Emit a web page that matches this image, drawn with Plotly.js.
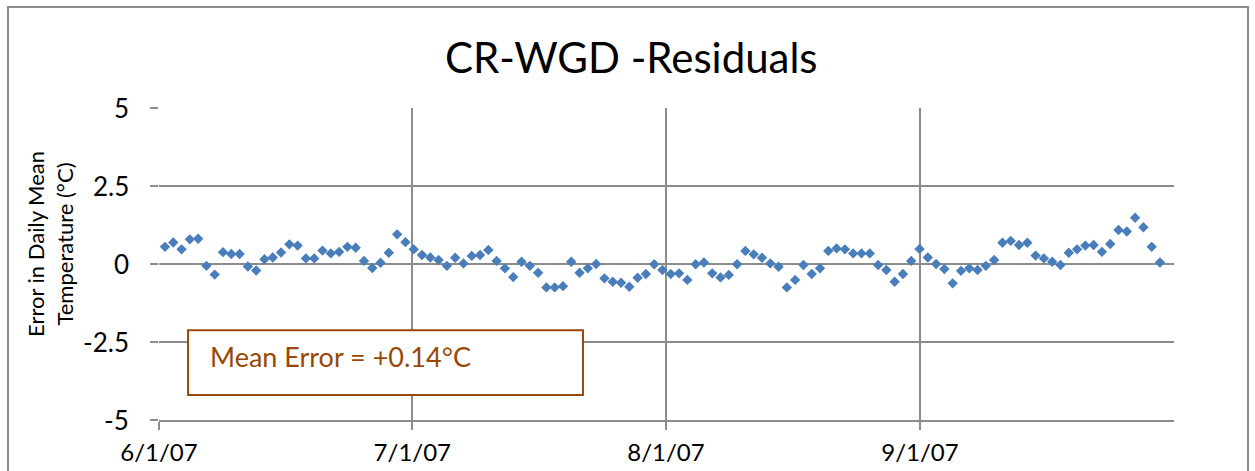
<!DOCTYPE html>
<html>
<head>
<meta charset="utf-8">
<script src="https://cdn.plot.ly/plotly-3.0.1.min.js"></script>
<style>
html,body{margin:0;padding:0;background:#fff;}
#wrap{position:relative;width:1255px;height:471px;overflow:hidden;}
#chart{width:1255px;height:471px;}
#frame{position:absolute;left:7px;top:6px;width:1238px;height:500px;border:2px solid #8c8c8c;pointer-events:none;}
</style>
</head>
<body>
<div id="wrap"><div id="chart"></div><div id="frame"></div></div>
<script>
// Day number counted from 6/1/07 (day 0), one residual per day
var days = [];
for (var d = 0; d <= 120; d++) days.push(d);

var residuals = [
 0.55, 0.69, 0.47, 0.79, 0.81, -0.06, -0.34, 0.38, 0.32, 0.32,
 -0.08, -0.21, 0.15, 0.21, 0.37, 0.63, 0.59, 0.18, 0.18, 0.43,
 0.34, 0.39, 0.55, 0.52, 0.10, -0.13, 0.04, 0.36, 0.95, 0.70,
 0.47, 0.29, 0.21, 0.13, -0.06, 0.20, 0.02, 0.26, 0.29, 0.45,
 0.10, -0.14, -0.42, 0.07, -0.06, -0.28, -0.75, -0.75, -0.71, 0.07,
 -0.28, -0.14, 0.00, -0.46, -0.57, -0.60, -0.73, -0.44, -0.32, -0.01,
 -0.19, -0.32, -0.30, -0.51, -0.01, 0.05, -0.30, -0.43, -0.35, -0.01,
 0.42, 0.31, 0.20, 0.02, -0.09, -0.75, -0.51, -0.03, -0.32, -0.14,
 0.42, 0.50, 0.47, 0.34, 0.34, 0.34, -0.03, -0.19, -0.57, -0.32,
 0.10, 0.48, 0.21, 0.00, -0.16, -0.62, -0.22, -0.14, -0.19, -0.06,
 0.13, 0.68, 0.74, 0.61, 0.68, 0.27, 0.18, 0.07, -0.03, 0.36,
 0.47, 0.59, 0.61, 0.39, 0.64, 1.09, 1.04, 1.48, 1.18, 0.55,
 0.05
];

var xTickLabels = ['6/1/07', '7/1/07', '8/1/07', '9/1/07'];
var xTickDays = [-0.72, 29.83, 60.42, 91.05];
var yTicks = [-5, -2.5, 0, 2.5, 5];
var yTickLabels = ['-5', '-2.5', '0', '2.5', '5'];

var titleText = 'CR-WGD -Residuals';
var yTitleText = 'Error in Daily Mean<br>Temperature (°C)';
var noteText = 'Mean Error = +0.14°C';

var FONT = 'Lato, "Open Sans", "DejaVu Sans", sans-serif';
var grid = '#8c8c8c';

var trace = {
  x: days, y: residuals,
  type: 'scatter', mode: 'markers',
  marker: {symbol: 'diamond', size: 8, color: '#4a7ebb', line: {width: 0}},
  hoverinfo: 'x+y', showlegend: false
};

var annotations = [
  {text: noteText, xref: 'paper', yref: 'paper', x: 0.0483, y: 0.202,
   xanchor: 'left', yanchor: 'middle', showarrow: false,
   font: {family: FONT, size: 27, color: '#984807'}},
  {text: yTitleText, xref: 'paper', yref: 'paper', x: -0.1074, y: 0.564,
   xanchor: 'center', yanchor: 'middle', showarrow: false, textangle: -90,
   font: {family: FONT, size: 22, color: '#000'}}
];
// y tick labels, placed on the y axis scale
yTicks.forEach(function (v, i) {
  annotations.push({text: yTickLabels[i], xref: 'paper', yref: 'y', x: -0.0276, y: v,
    xanchor: 'right', yanchor: 'middle', showarrow: false,
    font: {family: FONT, size: 26, color: '#000'}});
});

var layout = {
  width: 1255, height: 471,
  margin: {l: 159, r: 81, t: 108, b: 51},
  paper_bgcolor: '#ffffff', plot_bgcolor: '#ffffff',
  font: {family: FONT, color: '#000000'},
  title: {text: titleText, font: {family: FONT, size: 42, color: '#000000'},
          x: 0.503, xanchor: 'center', xref: 'container', y: 0.877, yanchor: 'middle', yref: 'container'},
  xaxis: {
    range: [-0.72, 121.69], tickmode: 'array', tickvals: xTickDays, ticktext: xTickLabels,
    showgrid: true, gridcolor: grid, gridwidth: 2,
    showline: true, linecolor: grid, linewidth: 2,
    ticks: 'outside', ticklen: 8, tickwidth: 2, tickcolor: grid,
    ticklabelstandoff: 2,
    tickfont: {family: FONT, size: 24, color: '#000'},
    zeroline: false, fixedrange: true
  },
  yaxis: {
    range: [-5, 5], tickmode: 'array', tickvals: yTicks, showticklabels: false,
    showgrid: true, gridcolor: grid, gridwidth: 2,
    showline: false,
    ticks: 'outside', ticklen: 8, tickwidth: 2, tickcolor: grid,
    zeroline: false, fixedrange: true
  },
  shapes: [{
    type: 'rect', xref: 'paper', yref: 'paper', layer: 'above',
    x0: 0.0286, x1: 0.4177, y0: 0.080, y1: 0.288,
    line: {color: '#984807', width: 2}, fillcolor: '#ffffff'
  }],
  annotations: annotations
};

Plotly.newPlot('chart', [trace], layout, {displayModeBar: false, staticPlot: true});
</script>
</body>
</html>
